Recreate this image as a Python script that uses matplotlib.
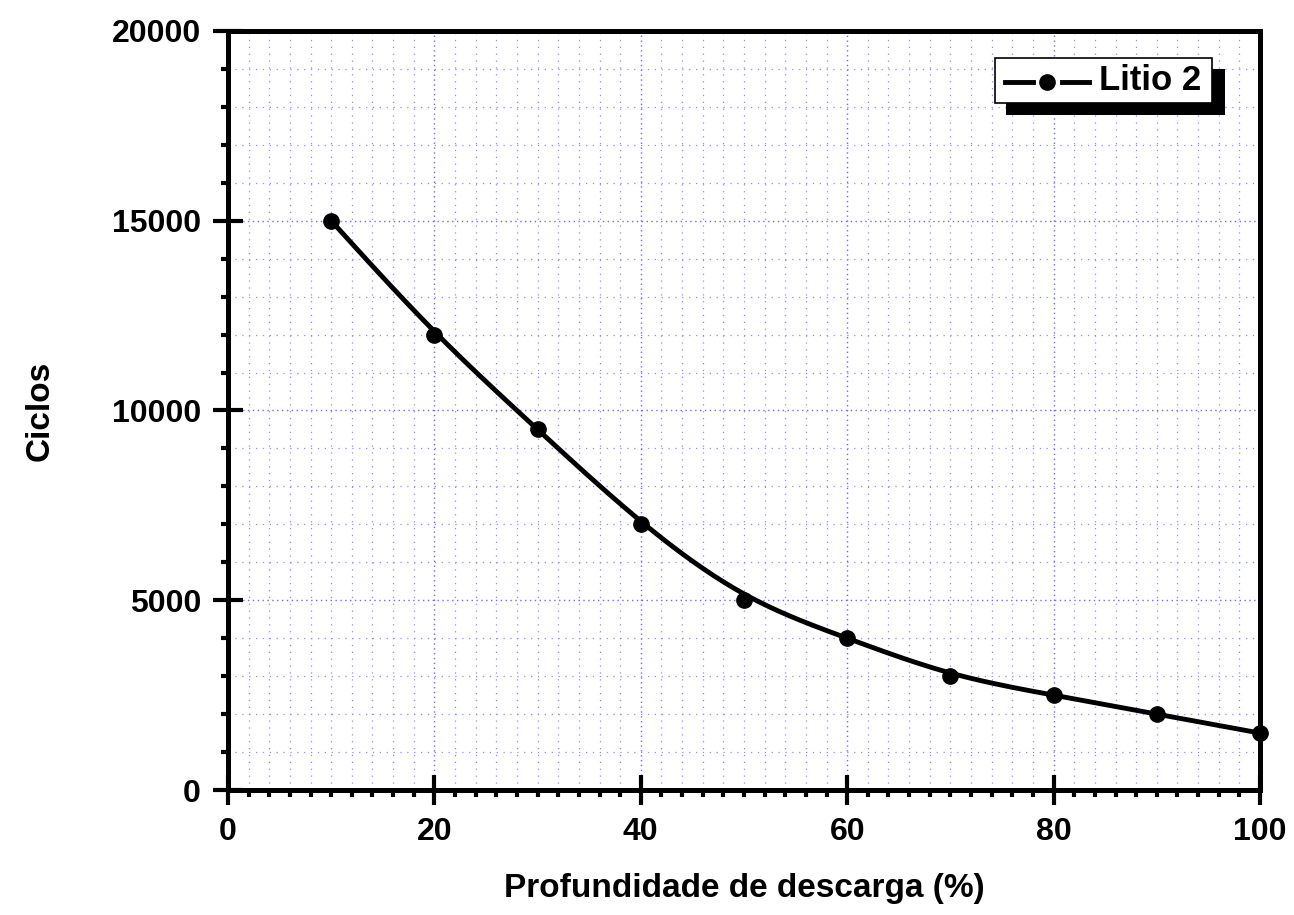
import numpy as np
import matplotlib
matplotlib.use("Agg")
import matplotlib.pyplot as plt
from matplotlib.ticker import MultipleLocator
from matplotlib.patches import Rectangle
from matplotlib.lines import Line2D

# ---- data ----
dod = [10, 20, 30, 40, 50, 60, 70, 80, 90, 100]
cycles = [15000, 12000, 9500, 7000, 5000, 4000, 3000, 2500, 2000, 1500]
series_label = "Litio 2"
x_label = "Profundidade de descarga (%)"
y_label = "Ciclos"

plt.rcParams['font.family'] = ['Liberation Sans', 'DejaVu Sans']
plt.rcParams['font.weight'] = 'bold'

fig = plt.figure(figsize=(12.94, 9.15), dpi=100)
ax = fig.add_axes([228/1294, 1-790/915, (1260-228)/1294, (790-31)/915])


def bspline(xs, ys, n=40):
    P = np.column_stack([xs, ys]).astype(float)
    P = np.vstack([2*P[0]-P[1], P, 2*P[-1]-P[-2]])
    out = []
    for i in range(len(P)-3):
        t = np.linspace(0, 1, n)[:, None]
        b0 = (1-t)**3/6
        b1 = (3*t**3-6*t**2+4)/6
        b2 = (-3*t**3+3*t**2+3*t+1)/6
        b3 = t**3/6
        out.append(b0*P[i]+b1*P[i+1]+b2*P[i+2]+b3*P[i+3])
    c = np.vstack(out)
    return c[:, 0], c[:, 1]

sx, sy = bspline(dod, cycles)
ax.plot(sx, sy, color='black', lw=3.5, solid_capstyle='round', zorder=3)
ax.plot(dod, cycles, 'o', color='black', ms=11, zorder=4, clip_on=False)

ax.set_xlim(0, 100)
ax.set_ylim(0, 20000)
ax.xaxis.set_major_locator(MultipleLocator(20))
ax.xaxis.set_minor_locator(MultipleLocator(2))
ax.yaxis.set_major_locator(MultipleLocator(5000))
ax.yaxis.set_minor_locator(MultipleLocator(1000))

ax.grid(which='minor', color='#8c8cff', lw=0.9, linestyle=(0, (1, 4.5)), zorder=0)
ax.grid(which='major', color='#6a6aff', lw=1.0, linestyle=(0, (1, 2.5)), zorder=0)
ax.set_axisbelow(True)

for s in ax.spines.values():
    s.set_linewidth(3.6)

ax.tick_params(which='major', direction='inout', length=21, width=3.0,
               labelsize=23, pad=9)
ax.tick_params(which='minor', direction='out', length=5, width=3.0)
ax.tick_params(top=False, right=False)
for lab in ax.get_xticklabels() + ax.get_yticklabels():
    lab.set_fontweight('bold')

ax.set_xlabel(x_label, fontsize=24, fontweight='bold')
ax.set_ylabel(y_label, fontsize=24, fontweight='bold')
ax.xaxis.set_label_coords(0.5, (790-888)/759, transform=ax.transAxes)
ax.xaxis.label.set_va('center')
ax.yaxis.set_label_coords((40-228)/1032, 0.5, transform=ax.transAxes)
ax.yaxis.label.set_va('center')

# legend (Origin style with black offset shadow)
tr = ax.transAxes
def fx(px):
    return (px-228)/1032
def fy(py):
    return (790-py)/759
ax.add_patch(Rectangle((fx(1006), fy(115)), fx(1225)-fx(1006), fy(69)-fy(115),
                       transform=tr, facecolor='black', edgecolor='black', lw=0, zorder=6, clip_on=False))
ax.add_patch(Rectangle((fx(995), fy(103)), fx(1212)-fx(995), fy(58)-fy(103),
                       transform=tr, facecolor='white', edgecolor='black', lw=1.2, zorder=7, clip_on=False))
ax.add_line(Line2D([fx(1005), fx(1033)], [fy(82), fy(82)], transform=tr, color='black', lw=3.5, zorder=8))
ax.add_line(Line2D([fx(1062), fx(1089)], [fy(82), fy(82)], transform=tr, color='black', lw=3.5, zorder=8))
ax.add_line(Line2D([fx(1047)], [fy(82)], transform=tr, color='black', marker='o', ms=11, lw=0, zorder=8))
ax.text(fx(1099), fy(81), series_label, transform=tr, fontsize=25, fontweight='bold',
        va='center', ha='left', zorder=9)

fig.savefig('out.png', dpi=100)
